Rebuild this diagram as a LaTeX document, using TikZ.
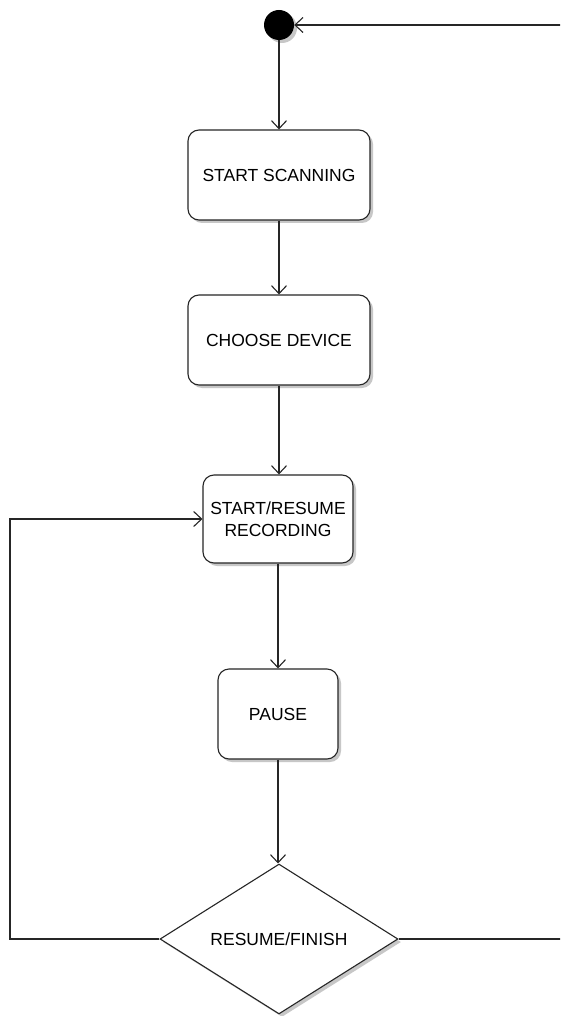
\documentclass[tikz,border=0pt]{standalone}
\usepackage{fontspec}
\setmainfont{Liberation Sans}
\usetikzlibrary{arrows.meta,shapes.geometric,shadows}
\begin{document}
\begin{tikzpicture}[x=1pt,y=-1pt,
  every node/.style={font=\fontsize{17.5}{22}\selectfont, align=center},
  shade3/.style={drop shadow={shadow xshift=3pt,shadow yshift=-3pt,fill=black!22,opacity=1}},
  state/.style={draw=black!85, line width=1.1pt, rounded corners=11pt, fill=white,
                inner sep=0pt, shade3},
  decision/.style={draw=black!85, line width=1.1pt, shape=diamond, fill=white,
                   inner sep=0pt, minimum width=238pt, minimum height=148pt, shade3},
  startdot/.style={circle, fill=black, minimum size=30pt, inner sep=0pt, shade3},
  flow/.style={draw=black!85, line width=1.1pt, -{Straight Barb[length=8pt,width=15pt,line width=1.1pt]}},
  link/.style={draw=black!85, line width=1.1pt}]
  \clip (0,0) rectangle (560,1016);
  \fill[white] (0,0) rectangle (560,1016);

  % states
  \node[startdot] (init) at (279,25) {};
  \node[state, minimum width=182pt, minimum height=90pt] (scan) at (279,175) {START SCANNING};
  \node[state, minimum width=182pt, minimum height=90pt] (choose) at (279,340) {CHOOSE DEVICE};
  \node[state, minimum width=150pt, minimum height=88pt] (rec) at (278,519) {START/RESUME\\RECORDING};
  \node[state, minimum width=120pt, minimum height=90pt] (pause) at (278,714) {PAUSE};
  \node[decision] (dec) at (279,939) {RESUME/FINISH};

  % main flow
  \draw[flow] (init) -- (scan);
  \draw[flow] (scan) -- (choose);
  \draw[flow] (choose) -- (rec.north -| choose.south);
  \draw[flow] (rec) -- (pause.north -| rec.south);
  \draw[flow] (pause) -- (dec.north -| pause.south);

  % resume loop back to recording
  \coordinate (leftturn) at (10,939);
  \draw[flow] (dec.west) -- (leftturn) |- (rec.west);

  % finish loop back to the start
  \coordinate (rightturn) at (563,939);
  \draw[flow] (dec.east) -- (rightturn) |- (init.east);
\end{tikzpicture}
\end{document}
